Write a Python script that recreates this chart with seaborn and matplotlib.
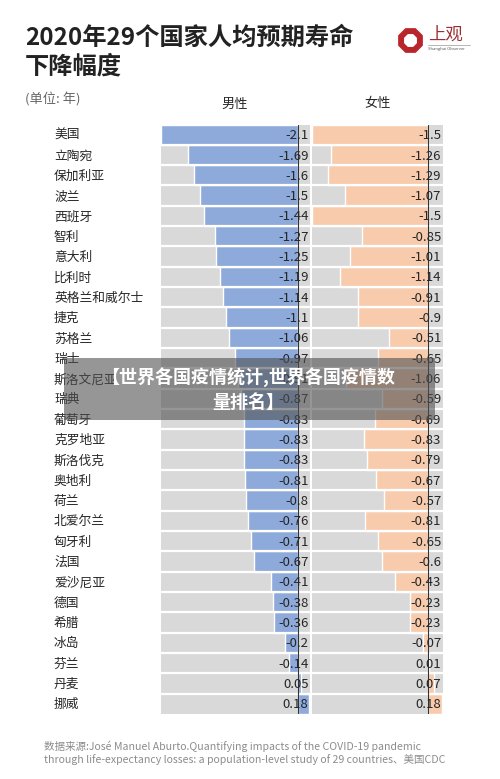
import numpy as np
import pandas as pd
import matplotlib
matplotlib.use('Agg')
import matplotlib.pyplot as plt
import matplotlib.transforms as mtransforms
from matplotlib.patches import Rectangle
import seaborn as sns

countries = ['美国', '立陶宛', '保加利亚', '波兰', '西班牙', '智利', '意大利', '比利时',
             '英格兰和威尔士', '捷克', '苏格兰', '瑞士', '斯洛文尼亚', '瑞典', '葡萄牙',
             '克罗地亚', '斯洛伐克', '奥地利', '荷兰', '北爱尔兰', '匈牙利', '法国',
             '爱沙尼亚', '德国', '希腊', '冰岛', '芬兰', '丹麦', '挪威']
male = [-2.1, -1.69, -1.6, -1.5, -1.44, -1.27, -1.25, -1.19, -1.14, -1.1, -1.06, -0.97,
        -0.91, -0.87, -0.83, -0.83, -0.83, -0.81, -0.8, -0.76, -0.71, -0.67, -0.41, -0.38,
        -0.36, -0.2, -0.14, 0.05, 0.18]
female = [-1.5, -1.26, -1.29, -1.07, -1.5, -0.85, -1.01, -1.14, -0.91, -0.9, -0.51, -0.65,
          -1.06, -0.59, -0.69, -0.83, -0.79, -0.67, -0.57, -0.81, -0.65, -0.6, -0.43, -0.23,
          -0.23, -0.07, 0.01, 0.07, 0.18]

sns.set_style('white')
plt.rcParams['font.family'] = ['Noto Sans CJK SC', 'DejaVu Sans']

BLUE = '#8eaadb'
ORANGE = '#f8cbad'
GRAY = '#d9d9d9'
TXT = '#262626'

W, H = 500, 779
fig = plt.figure(figsize=(W / 100, H / 100), dpi=100)
fig.patch.set_facecolor('white')

df = pd.DataFrame({'country': countries, 'male': male, 'female': female})


def px_axes(x0, x1, y0, y1):
    # pixel box -> figure fraction axes
    return fig.add_axes([x0 / W, 1 - y1 / H, (x1 - x0) / W, (y1 - y0) / H])


ax_m = px_axes(161, 310, 124.5, 714)
ax_f = px_axes(312, 442.5, 124.5, 714)

panels = [(ax_m, 'male', BLUE, (-2.1, 0.19)), (ax_f, 'female', ORANGE, (-1.5, 0.185))]
for ax, col, color, lim in panels:
    ax.set_facecolor(GRAY)
    sns.barplot(data=df, x=col, y='country', orient='h', color=color,
                saturation=1, width=1.0, ax=ax, zorder=2)
    ax.set_xlim(*lim)
    ax.set_ylim(len(countries) - 0.5, -0.5)
    for i in range(len(countries) - 1):
        ax.axhline(i + 0.5, color='white', lw=1.6, zorder=3)
    ax.axvline(0, color='#333333', lw=0.8, zorder=4)
    tr = mtransforms.blended_transform_factory(ax.transAxes, ax.transData)
    for i, v in enumerate(df[col]):
        ax.text(0.99, i + 0.05, f'{v:g}', transform=tr, ha='right', va='center',
                fontsize=9.5, color=TXT, zorder=5)
    ax.set_xlabel('')
    ax.set_ylabel('')
    ax.set_xticks([])
    ax.set_yticks([])
    for s in ax.spines.values():
        s.set_visible(False)

# country labels
tr = mtransforms.blended_transform_factory(fig.transFigure, ax_m.transData)
for i, c in enumerate(countries):
    fig.text(54 / W, i + 0.05, c, transform=tr, ha='left', va='center',
             fontsize=9.2, color=TXT)

# title and headers
fig.text(25 / W, 1 - 38 / H, '2020年29个国家人均预期寿命', fontsize=17.5,
         fontweight='bold', color='#222222', va='center', ha='left')
fig.text(25 / W, 1 - 67 / H, '下降幅度', fontsize=17.5,
         fontweight='bold', color='#222222', va='center', ha='left')
fig.text(25 / W, 1 - 99 / H, '(单位: 年)', fontsize=9.5, color='#666666',
         va='center', ha='left')
fig.text(235 / W, 1 - 104 / H, '男性', fontsize=9.5, color=TXT, va='center', ha='center')
fig.text(378 / W, 1 - 104 / H, '女性', fontsize=9.5, color=TXT, va='center', ha='center')

# logo
logo = fig.add_axes([398 / W, 1 - 52 / H, 24 / W, 24 / H])
logo.set_xlim(-1, 1)
logo.set_ylim(-1, 1)
logo.axis('off')
logo.scatter([0], [0], marker='8', s=330, color='#b8262b', zorder=1)
logo.scatter([0], [0], marker='8', s=80, color='white', zorder=2)
fig.text(428 / W, 1 - 35 / H, '上观', fontsize=12.5, color='#9a3034', va='center', ha='left')
fig.add_artist(plt.Line2D([428 / W, 470 / W], [1 - 45 / H, 1 - 45 / H],
                          color='#999999', lw=0.5))
fig.text(428 / W, 1 - 49 / H, 'Shanghai Observer', fontsize=3, color='#555555',
         va='center', ha='left')

# footnote
fig.text(44 / W, 1 - 746.5 / H,
         '数据来源:José Manuel Aburto.Quantifying impacts of the COVID-19 pandemic',
         fontsize=7.6, color='#8c8c8c', va='center', ha='left')
fig.text(44 / W, 1 - 760 / H,
         'through life-expectancy losses: a population-level study of 29 countries、美国CDC',
         fontsize=7.6, color='#8c8c8c', va='center', ha='left')

# overlay banner
fig.add_artist(Rectangle((64 / W, 1 - 420 / H), (435 - 64) / W, (420 - 358) / H,
                         transform=fig.transFigure, facecolor='#505050', alpha=0.6,
                         edgecolor='none', zorder=10))
fig.text(248 / W, 1 - 377 / H, '【世界各国疫情统计,世界各国疫情数', fontsize=13,
         fontweight='bold', color='white', ha='center', va='center', zorder=11)
fig.text(248 / W, 1 - 402 / H, '量排名】', fontsize=13,
         fontweight='bold', color='white', ha='center', va='center', zorder=11)

fig.savefig('out.png', dpi=100)
